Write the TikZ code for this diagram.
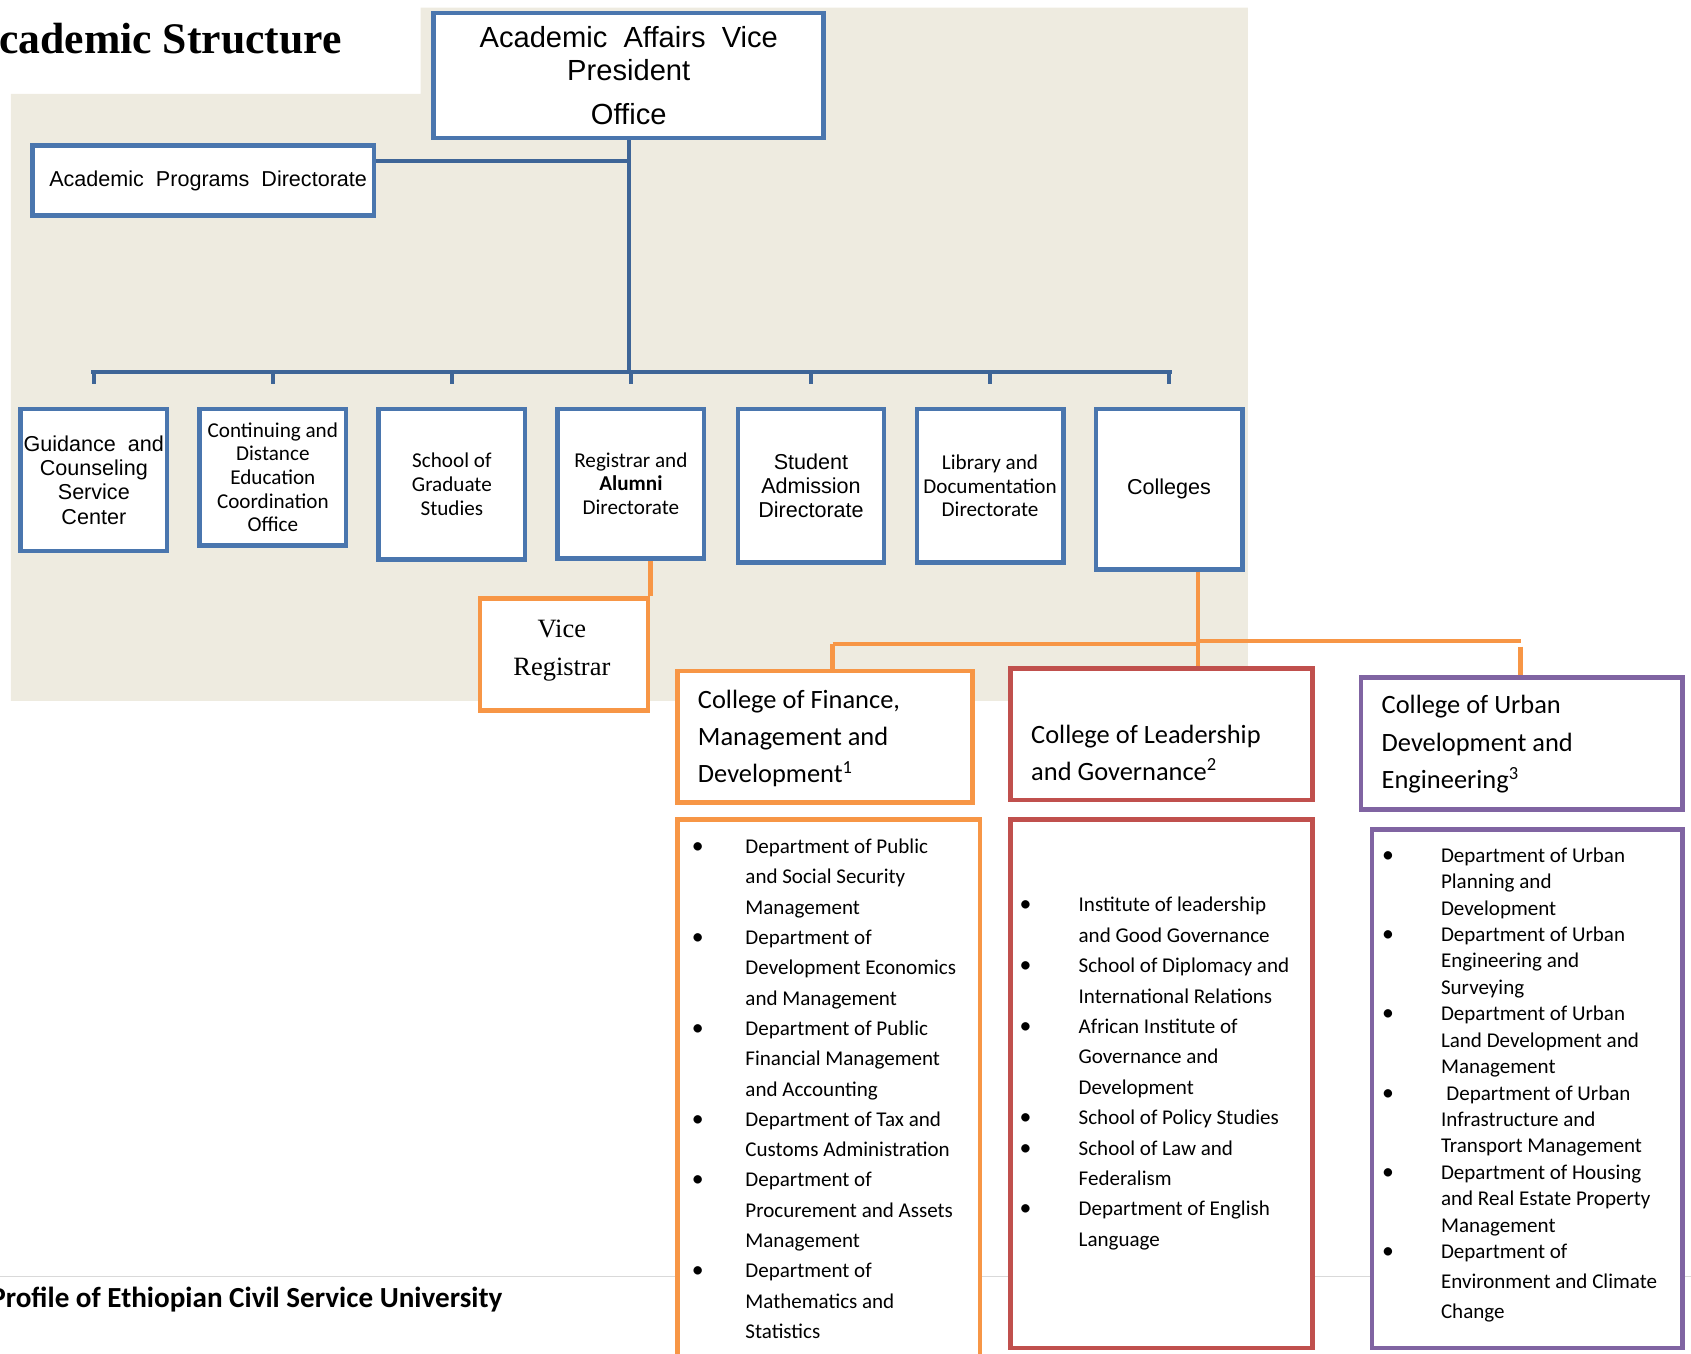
\documentclass[tikz,border=0pt]{standalone}
\usepackage{fontspec}
\newfontfamily\arialf{Liberation Sans}
\newfontfamily\calf{Carlito}
\newfontfamily\tnrf{Liberation Serif}
\usetikzlibrary{calc}
\definecolor{beige}{HTML}{EEEBE0}
\definecolor{bbox}{HTML}{4A76AE}
\definecolor{bline}{HTML}{3E6597}
\definecolor{oran}{HTML}{F79646}
\definecolor{redc}{HTML}{C0504D}
\definecolor{purc}{HTML}{8064A2}
\definecolor{footc}{HTML}{D9D9D9}
\begin{document}
\begin{tikzpicture}[x=1pt,y=-1pt,
  box/.style={line width=4.3pt, fill=white, inner sep=0pt, align=center},
  bluebox/.style={box, draw=bbox},
  obox/.style={box, draw=oran},
  rbox/.style={box, draw=redc},
  pbox/.style={box, draw=purc},
  bconn/.style={draw=bline, line width=3.8pt},
  oconn/.style={draw=oran, line width=4.3pt},
  arA/.style={font=\arialf\fontsize{20}{22.5}\selectfont},
  caA/.style={font=\calf\fontsize{19.6}{22}\selectfont},
  hdr/.style={font=\calf\fontsize{24.5}{30}\selectfont, anchor=base west, inner sep=0pt},
  lst/.style={font=\calf\fontsize{19.5}{24}\selectfont, anchor=base west, inner sep=0pt},
  bul/.style={font=\calf\fontsize{22}{24}\selectfont, anchor=base, inner sep=0pt}]
\useasboundingbox (0,0) rectangle (1568,1255.5);
% background
\fill[beige] (10,87) -- (390,87) -- (390,7) -- (1157,7) -- (1157,650) -- (10,650) -- cycle;
% footer rule
\coordinate (fa) at (0,1183.5);
\coordinate (fb) at (1568,1183.5);
\draw[footc, line width=1.5pt] (fa) -- (fb);
% title and footer text
\node[anchor=base east, inner sep=0pt, font=\tnrf\bfseries\fontsize{40.5}{48}\selectfont] (title) at (317,50) {Academic Structure};
\node[anchor=base east, inner sep=0pt, font=\calf\bfseries\fontsize{27}{30}\selectfont] (foot) at (466,1212) {Profile of Ethiopian Civil Service University};

% blue boxes
\node[bluebox, minimum width=361.7pt, minimum height=115.7pt, font=\arialf\fontsize{27}{31}\selectfont] (top) at (583,70) {Academic~~Affairs~~Vice\\President\\[10pt]Office};
\node[bluebox, minimum width=316.7pt, minimum height=64.7pt] (apd) at (188.5,167.5) {};
\node[arA, inner sep=0pt] (apdt) at (193,167.5) {Academic~~Programs~~Directorate};
\node[bluebox, arA, minimum width=135.7pt, minimum height=131.7pt] (g) at (87,445) {Guidance~~and\\Counseling\\Service\\Center};
\node[bluebox, caA, minimum width=135.7pt, minimum height=126.7pt] (c) at (253,442.5) {Continuing and\\Distance\\Education\\Coordination\\Office};
\node[bluebox, caA, minimum width=135.7pt, minimum height=139.7pt] (s) at (419,449) {School of\\Graduate\\Studies};
\node[bluebox, caA, minimum width=135.7pt, minimum height=138.7pt] (r) at (585,448.5) {Registrar and\\\textbf{Alumni}\\Directorate};
\node[bluebox, arA, minimum width=135.7pt, minimum height=142.7pt] (st) at (752,450.5) {Student\\Admission\\Directorate};
\node[bluebox, caA, minimum width=135.7pt, minimum height=142.7pt] (l) at (918,450.5) {Library and\\Documentation\\Directorate};
\node[bluebox, arA, minimum width=135.7pt, minimum height=148.7pt] (co) at (1084,453.5) {Colleges};

% blue connectors
\coordinate (j1) at (583,149);
\coordinate (busL) at (86,345);
\coordinate (busR) at (1085,345);
\draw[bconn] (top.south) -- (top.south |- busL);
\draw[bconn] (apd.east |- j1) -- (j1);
\draw[bconn, line cap=rect] (busL) -- (busR);
\foreach \n in {g,c,s,r,st,l,co}
  \draw[bconn, shorten >=21pt] (\n.north |- busL) -- (\n.north);

% vice registrar
\node[obox, minimum width=155.7pt, minimum height=103.7pt] (vr) at (523,607) {};
\node[inner sep=0pt, align=center, font=\tnrf\fontsize{24.5}{35}\selectfont] (vrt) at (521,603) {Vice\\Registrar};
\draw[oconn] (r.south -| vr.north east) -- (vr.north east);

% colleges headers
\node[obox, minimum width=273.7pt, minimum height=121.7pt] (fin) at (765,683) {};
\node[rbox, minimum width=279.7pt, minimum height=121.7pt] (lead) at (1077,681) {};
\node[pbox, minimum width=297.7pt, minimum height=122.7pt] (urb) at (1411,689.5) {};

% orange college connectors
\coordinate (cj) at (1111,597);
\coordinate (cj2) at (1111,594.5);
\coordinate (fj) at (772,597);
\coordinate (uj) at (1410,594.5);
\draw[oconn] (co.south -| cj) -- (lead.north -| cj);
\draw[oconn] (fj) -- (cj);
\draw[oconn] (cj2) -- (uj);
\draw[oconn] (fj) -- (fin.north -| fj);
\draw[oconn] ($(uj)+(0,5)$) -- (urb.north -| uj);

\foreach \t [count=\i from 0] in {{College of Finance,},{Management and},{Development\textsuperscript{1}}}
  \node[hdr] (fh\i) at (647,657+34.5*\i) {\t};
\foreach \t [count=\i from 0] in {{College of Leadership},{and Governance\textsuperscript{2}}}
  \node[hdr] (lh\i) at (956,689.5+34*\i) {\t};
\foreach \t [count=\i from 0] in {{College of Urban},{Development and},{Engineering\textsuperscript{3}}}
  \node[hdr] (uh\i) at (1281,661.5+35*\i) {\t};

% list boxes
\node[obox, minimum width=280.7pt, minimum height=517.7pt] (finl) at (768.5,1019) {};
\node[rbox, minimum width=279.7pt, minimum height=489.7pt] (leadl) at (1077,1005) {};
\node[pbox, minimum width=287.7pt, minimum height=480.7pt] (urbl) at (1416,1009.5) {};

% finance list
\foreach \t [count=\i from 0] in {{Department of Public},{and Social Security},{Management},{Department of},{Development Economics},{and Management},{Department of Public},{Financial Management},{and Accounting},{Department of Tax and},{Customs Administration},{Department of},{Procurement and Assets},{Management},{Department of},{Mathematics and},{Statistics}}
  \node[lst] (fl\i) at (691,791.5+28.1*\i) {\t};
\foreach \i in {0,3,6,9,11,14}
  \node[bul] (fb\i) at (647,791.5+28.1*\i) {•};

% leadership list
\foreach \t [count=\i from 0] in {{Institute of leadership},{and Good Governance},{School of Diplomacy and},{International Relations},{African Institute of},{Governance and},{Development},{School of Policy Studies},{School of Law and},{Federalism},{Department of English},{Language}}
  \node[lst] (ll\i) at (1000,845.5+28.2*\i) {\t};
\foreach \i in {0,2,4,7,8,10}
  \node[bul] (lb\i) at (951,845.5+28.2*\i) {•};

% urban list
\foreach \t [count=\i from 0] in {{Department of Urban},{Planning and},{Development},{Department of Urban},{Engineering and},{Surveying},{Department of Urban},{Land Development and},{Management},{\hspace*{5pt}Department of Urban},{Infrastructure and},{Transport Management},{Department of Housing},{and Real Estate Property},{Management},{Department of}}
  \node[lst] (ul\i) at (1336,799.5+24.5*\i) {\t};
\node[lst] (ul16) at (1336,1194.5) {Environment and Climate};
\node[lst] (ul17) at (1336,1222.5) {Change};
\foreach \i in {0,3,6,9,12,15}
  \node[bul] (ub\i) at (1287,799.5+24.5*\i) {•};
\end{tikzpicture}
\end{document}
